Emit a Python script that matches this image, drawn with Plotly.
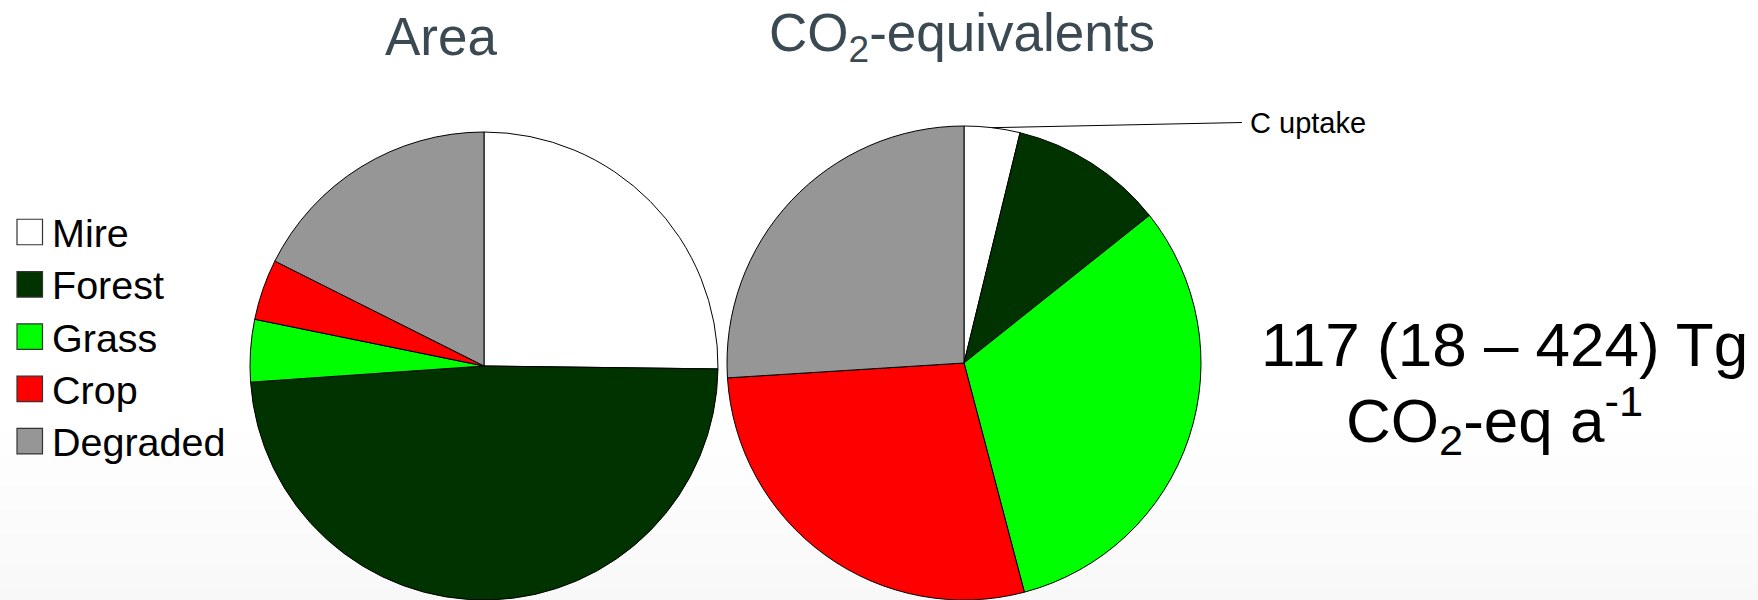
import math
import plotly.graph_objects as go

# Land-use categories and their shares (%)
categories = ["Mire", "Forest", "Grass", "Crop", "Degraded"]
colors = ["#ffffff", "#003300", "#00ff00", "#ff0000", "#969696"]
area_share = [25.2, 48.7, 4.3, 4.2, 17.6]
co2_share = [3.8, 10.5, 31.6, 28.1, 26.0]

pie_titles = ["Area", "CO<sub>2</sub>-equivalents"]
total_lines = ["117 (18 \u2013 424) Tg", "CO<sub>2</sub>-eq a<sup>-1</sup>"]
uptake_label = "C uptake"

W, H = 1758, 600
FONT = "Liberation Sans, Arial, Helvetica, sans-serif"


def fx(px):
    return px / W


def fy(py):
    return 1 - py / H


# pie placement in pixels: centre x, centre y (from top), radius
left_pie = (484, 366, 234)
right_pie = (964, 363, 237)


def domain(cx, cy, r):
    return dict(x=[fx(cx - r), fx(cx + r)], y=[max(0.0, fy(cy + r)), fy(cy - r)])


fig = go.Figure()

for (cx, cy, r), values in [(left_pie, area_share), (right_pie, co2_share)]:
    fig.add_trace(go.Pie(
        labels=categories,
        values=values,
        sort=False,
        direction="clockwise",
        rotation=0,
        marker=dict(colors=colors, line=dict(color="#000000", width=1)),
        textinfo="none",
        hoverinfo="label+percent",
        showlegend=False,
        domain=domain(cx, cy, r),
    ))

shapes = []
annotations = []

# soft grey fade at the bottom of the page
n_bands = 30
y0, y1 = 420, 600
for i in range(n_bands):
    t = (i + 0.5) / n_bands
    g = round(255 - 7 * t)
    shapes.append(dict(
        type="rect", xref="paper", yref="paper", layer="below",
        x0=0, x1=1,
        y0=fy(y0 + (y1 - y0) * (i + 1) / n_bands), y1=fy(y0 + (y1 - y0) * i / n_bands),
        fillcolor=f"rgb({g},{g},{g})", line=dict(width=0),
    ))

# legend: swatches with category names
row0, row_gap, box = 232, 52.3, 25.5
for i, (name, col) in enumerate(zip(categories, colors)):
    yc = row0 + i * row_gap
    shapes.append(dict(
        type="rect", xref="paper", yref="paper",
        x0=fx(17), x1=fx(17 + box), y0=fy(yc + box / 2), y1=fy(yc - box / 2),
        fillcolor=col, line=dict(color="#333333", width=1.2),
    ))
    annotations.append(dict(
        text=name, x=fx(50), y=fy(yc + 1), xref="paper", yref="paper",
        xanchor="left", yanchor="middle", showarrow=False,
        font=dict(family=FONT, size=39.5, color="#000000"),
    ))

# pie titles
for title, xc in zip(pie_titles, [441, 962]):
    annotations.append(dict(
        text=title, x=fx(xc), y=fy(36), xref="paper", yref="paper",
        xanchor="center", yanchor="middle", showarrow=False,
        font=dict(family=FONT, size=53, color="#3b4a52"),
    ))

# leader line from the middle of the first CO2 slice to its label
cx, cy, r = right_pie
mid_angle = math.radians(co2_share[0] / sum(co2_share) * 360 / 2)
tip_x = cx + r * math.sin(mid_angle)
tip_y = cy - r * math.cos(mid_angle)
shapes.append(dict(
    type="line", xref="paper", yref="paper",
    x0=fx(tip_x), y0=fy(tip_y), x1=fx(1242), y1=fy(122.5),
    line=dict(color="#000000", width=1),
))
annotations.append(dict(
    text=uptake_label, x=fx(1248), y=fy(123), xref="paper", yref="paper",
    xanchor="left", yanchor="middle", showarrow=False,
    font=dict(family=FONT, size=29, color="#000000"),
))

# total emission figure, two lines
for line, xc, yc in zip(total_lines, [1504, 1494], [344, 420]):
    annotations.append(dict(
        text=line, x=fx(xc), y=fy(yc), xref="paper", yref="paper",
        xanchor="center", yanchor="middle", align="center", showarrow=False,
        font=dict(family=FONT, size=62, color="#000000"),
    ))

fig.update_layout(
    width=W, height=H,
    margin=dict(l=0, r=0, t=0, b=0),
    paper_bgcolor="#ffffff",
    plot_bgcolor="#ffffff",
    shapes=shapes,
    annotations=annotations,
    showlegend=False,
)

fig.write_html("out.html")
